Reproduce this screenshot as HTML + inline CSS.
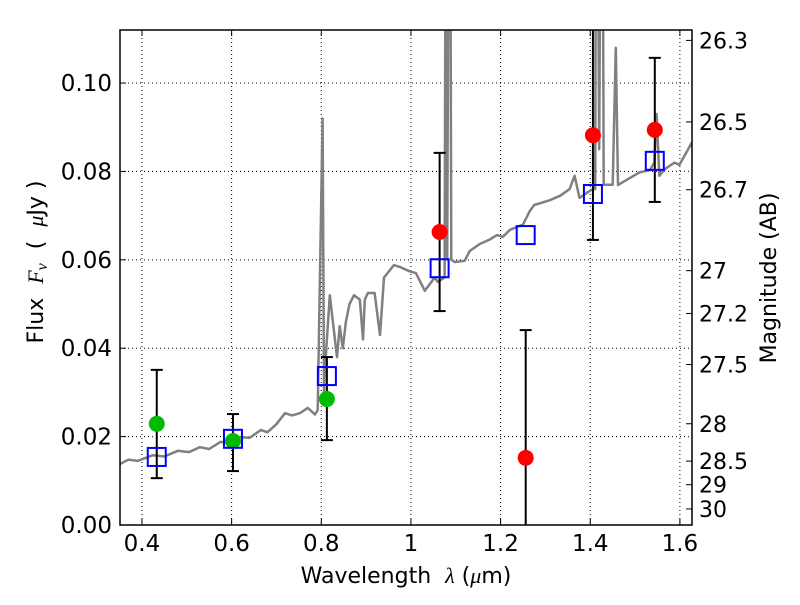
<!DOCTYPE html>
<html><head><meta charset="utf-8"><style>
body{margin:0;background:#fff;}
svg text{font-family:"DejaVu Sans","Liberation Sans",sans-serif;white-space:pre;}
</style></head><body>
<svg id="chart" width="800" height="600" viewBox="0 0 800 600">
<rect width="800" height="600" fill="#fff"/>
<g id="grid"></g><g id="spec"></g><g id="marks"></g><g id="axes"></g>
</svg>
<script>
const specLam=[0.351,0.37,0.39,0.4245,0.45,0.48,0.505,0.529,0.55,0.575,0.60,0.620,0.64,0.665,0.68,0.70,0.719,0.735,0.752,0.77,0.786,0.792,0.803,0.806,0.808,0.819,0.835,0.841,0.848,0.855,0.863,0.873,0.886,0.893,0.897,0.904,0.919,0.931,0.940,0.948,0.962,0.975,0.997,1.011,1.031,1.053,1.060,1.075,1.079,1.081,1.086,1.090,1.098,1.120,1.131,1.154,1.176,1.192,1.205,1.221,1.250,1.265,1.275,1.310,1.333,1.354,1.365,1.376,1.402,1.411,1.414,1.420,1.426,1.430,1.45,1.457,1.462,1.488,1.510,1.533,1.543,1.548,1.554,1.566,1.588,1.599,1.627];
const specFlux=[0.0138,0.0148,0.0145,0.0158,0.0155,0.0168,0.0165,0.0176,0.0172,0.0188,0.0185,0.0199,0.0197,0.0215,0.021,0.0228,0.0253,0.0248,0.0253,0.0265,0.025,0.026,0.092,0.03,0.035,0.052,0.038,0.045,0.04,0.046,0.05,0.052,0.051,0.042,0.051,0.0525,0.0525,0.043,0.056,0.057,0.0588,0.0584,0.0574,0.057,0.053,0.056,0.055,0.056,0.2,0.06,0.2,0.06,0.0595,0.0598,0.062,0.0636,0.0646,0.0656,0.0652,0.0668,0.068,0.071,0.0724,0.0735,0.0745,0.076,0.079,0.074,0.0758,0.076,0.2,0.085,0.2,0.077,0.077,0.108,0.0769,0.0785,0.0798,0.0803,0.082,0.093,0.079,0.0805,0.082,0.0815,0.0866];
const bandLam=[0.433,0.603,0.8125,1.064,1.256,1.406,1.544];
const modelFlux=[0.0154,0.0195,0.0337,0.0581,0.0656,0.0749,0.0824];
const obsFlux=[0.0229,0.019,0.0285,0.0663,0.0152,0.0882,0.0894];
const errLow=[0.0106,0.0122,0.0192,0.0484,-0.01,0.0645,0.0731];
const errHigh=[0.0351,0.0251,0.038,0.0842,0.0441,0.12,0.1057];
const obsColor=['#00bb00','#00bb00','#00bb00','#ff0000','#ff0000','#ff0000','#ff0000'];
const xTicks=[0.4,0.6,0.8,1.0,1.2,1.4,1.6];
const xTickLabels=['0.4','0.6','0.8','1','1.2','1.4','1.6'];
const yTicks=[0,0.02,0.04,0.06,0.08,0.10];
const yTickLabels=['0.00','0.02','0.04','0.06','0.08','0.10'];
const magTicks=[26.3,26.5,26.7,27,27.2,27.5,28,28.5,29,30];

const L=120,R=692,T=30,B=525;
const xmin=0.351,xmax=1.627,ymin=0,ymax=0.112;
const sx=v=>L+(v-xmin)/(xmax-xmin)*(R-L);
const sy=v=>B-(v-ymin)/(ymax-ymin)*(B-T);
const NS='http://www.w3.org/2000/svg';
function mk(tag,attrs,parent,text){const e=document.createElementNS(NS,tag);for(const k in attrs)e.setAttribute(k,attrs[k]);if(text!==undefined)e.textContent=text;document.getElementById(parent).appendChild(e);return e;}

const defs=document.createElementNS(NS,'defs');defs.innerHTML='<clipPath id="pc"><rect x="120" y="30" width="572" height="495"/></clipPath>';document.getElementById('chart').prepend(defs);
document.getElementById('spec').setAttribute('clip-path','url(#pc)');
document.getElementById('marks').setAttribute('clip-path','url(#pc)');

xTicks.forEach((t,i)=>{
  const g=mk('line',{x1:sx(t),x2:sx(t),y1:T,y2:B,stroke:'#000','stroke-width':1,'stroke-dasharray':'1,3'},'grid');
  
  mk('line',{x1:sx(t),x2:sx(t),y1:B,y2:B-6,stroke:'#000'},'axes');
  mk('line',{x1:sx(t),x2:sx(t),y1:T,y2:T+6,stroke:'#000'},'axes');
  const tx=mk('text',{x:sx(t),y:B+26,'text-anchor':'middle','font-size':23},'axes',xTickLabels[i]);
  
});
yTicks.forEach((t,i)=>{
  const g=mk('line',{x1:L,x2:R,y1:sy(t),y2:sy(t),stroke:'#000','stroke-width':1,'stroke-dasharray':'1,3'},'grid');
  
  mk('line',{x1:L,x2:L+6,y1:sy(t),y2:sy(t),stroke:'#000'},'axes');
  const tx=mk('text',{x:L-8,y:sy(t)+8,'text-anchor':'end','font-size':23},'axes',yTickLabels[i]);
  
});
magTicks.forEach(m=>{
  const f=Math.pow(10,(23.9-m)/2.5);const y=sy(f);
  mk('line',{x1:R,x2:R-6,y1:y,y2:y,stroke:'#000'},'axes');
  const tx=mk('text',{x:R+7,y:y+8,'font-size':22},'axes',String(m));
  
});

const pts=specLam.map((l,i)=>sx(l).toFixed(1)+','+sy(specFlux[i]).toFixed(1)).join(' ');
const sp=mk('polyline',{points:pts,fill:'none',stroke:'#808080','stroke-width':2.5,'stroke-linejoin':'round'},'spec');


bandLam.forEach((l,i)=>{
  const x=sx(l);
  const eb=mk('line',{x1:x,x2:x,y1:sy(errLow[i]),y2:sy(errHigh[i]),stroke:'#000','stroke-width':2},'marks');
  
  mk('line',{x1:x-6,x2:x+6,y1:sy(errLow[i]),y2:sy(errLow[i]),stroke:'#000','stroke-width':2},'marks');
  mk('line',{x1:x-6,x2:x+6,y1:sy(errHigh[i]),y2:sy(errHigh[i]),stroke:'#000','stroke-width':2},'marks');
  const c=mk('circle',{cx:x,cy:sy(obsFlux[i]),r:8,fill:obsColor[i]},'marks');
  
  const s=mk('rect',{x:x-9,y:sy(modelFlux[i])-9,width:18,height:18,fill:'none',stroke:'#0000ff','stroke-width':2},'marks');
  
});

const fr=mk('rect',{x:L,y:T,width:R-L,height:B-T,fill:'none',stroke:'#000','stroke-width':1.5},'axes');

const xl=mk('text',{x:406,y:583,'text-anchor':'middle','font-size':22},'axes');
xl.innerHTML='Wavelength\u00a0\u00a0<tspan font-style="italic" font-family="Liberation Serif">λ</tspan> (<tspan font-style="italic" font-family="Liberation Serif">μ</tspan>m)';

const yl=mk('text',{x:0,y:0,'text-anchor':'middle','font-size':22,transform:'translate(43,262) rotate(-90)'},'axes');
yl.innerHTML='Flux\u00a0\u00a0<tspan font-style="italic" font-family="Liberation Serif">F<tspan font-size="16" dy="4">ν</tspan></tspan><tspan dy="-4">\u00a0\u00a0(\u00a0\u00a0</tspan><tspan font-style="italic" font-family="Liberation Serif">μ</tspan>Jy )';

const rl=mk('text',{x:0,y:0,'text-anchor':'middle','font-size':22,transform:'translate(776,278) rotate(-90)'},'axes','Magnitude (AB)');

</script>
</body></html>
